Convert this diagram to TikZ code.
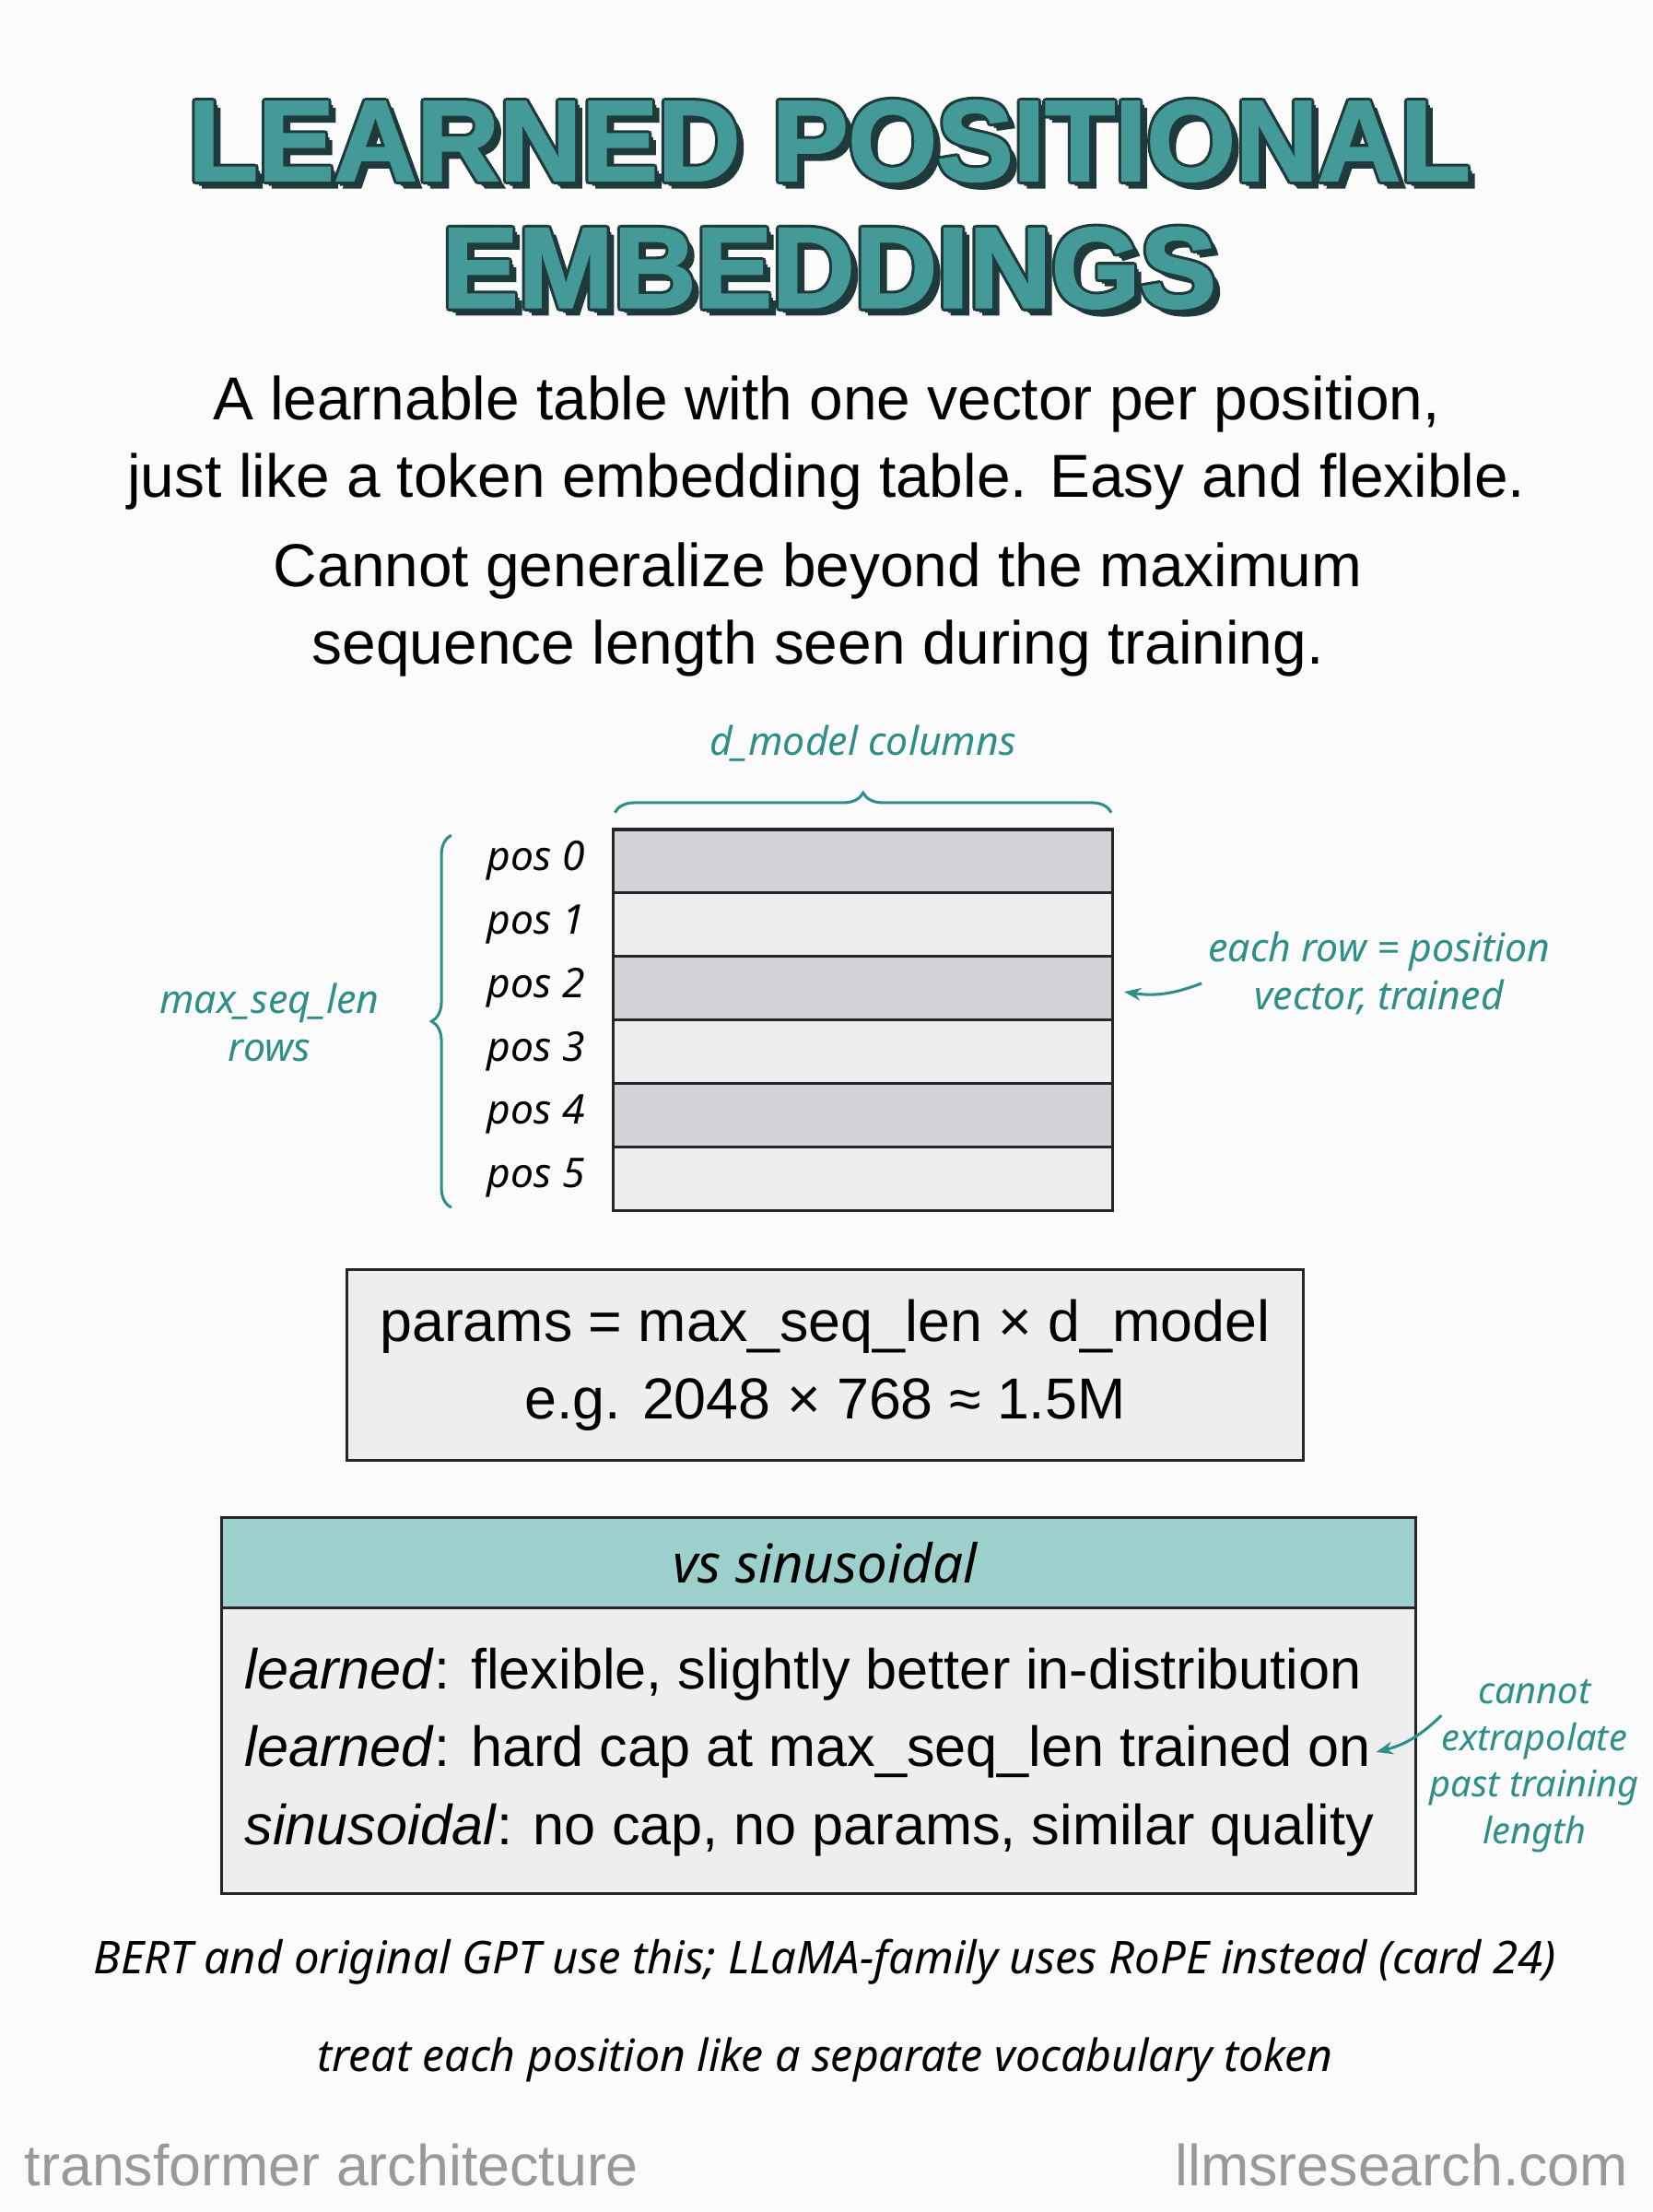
\documentclass[tikz,border=0pt]{standalone}
\usepackage{fontspec}
\setmainfont{Liberation Sans}
\newfontfamily\hand{Noto Sans}
\newfontfamily\ttl{Liberation Sans}[FakeBold=2]
\usetikzlibrary{decorations.pathreplacing,arrows.meta}
\definecolor{teal1}{HTML}{2E8F8A}
\definecolor{dark}{HTML}{1E3A3A}
\definecolor{rowA}{HTML}{D3D4D8}
\definecolor{rowB}{HTML}{EEEEF1}
\definecolor{head}{HTML}{9DD0CD}
\begin{document}
\begin{tikzpicture}[x=1pt,y=-1pt,
  note/.style={text=teal1,font=\hand\itshape\fontsize{28}{34}\selectfont,align=center},
  plab/.style={font=\hand\itshape\fontsize{29}{34}\selectfont},
  body/.style={font=\fontsize{43}{55}\selectfont,align=center},
  row/.style={anchor=west,font=\fontsize{40}{44}\selectfont},
  box/.style={draw=black!85,line width=2pt},
  arr/.style={draw=teal1,line width=2pt,-{Stealth[length=12pt]}}]
\useasboundingbox[fill=white!97!gray] (0,0) rectangle (1172,1568);
% title
\foreach \t/\y [count=\i] in {LEARNED POSITIONAL/100,EMBEDDINGS/190}{
  \foreach \dx/\dy in {3/3,5/5,-2/0,2/0,0/-2,0/2,-1.5/-1.5,1.5/1.5,1.5/-1.5,-1.5/1.5}
    \node[text=dark,font=\ttl\bfseries\fontsize{81}{86}\selectfont] at (588+\dx,\y+\dy) {\t};
  \node[text=teal1!90,font=\ttl\bfseries\fontsize{81}{86}\selectfont] (title\i) at (588,\y) {\t};
}
\node[body] (sub1) at (586,314) {A learnable table with one vector per position,\\just like a token embedding table. Easy and flexible.};
\node[body] (sub2) at (580,432) {Cannot generalize beyond the maximum\\sequence length seen during training.};
% table
\foreach \i in {0,...,5}{
  \pgfmathsetmacro\yy{588+45*\i}
  \ifodd\i \def\c{rowB}\else\def\c{rowA}\fi
  \draw[box,fill=\c] (435,\yy) rectangle (789,\yy+45);
  \node[plab] (p\i) at (380,\yy+22) {pos \i};
}
\coordinate (tl) at (436,576); \coordinate (tr) at (788,576);
\draw[teal1,line width=2pt,decorate,decoration={brace,amplitude=14pt}] (tl) -- (tr);
\node[note] (dm) at (612,527) {d\_model columns};
\coordinate (lt) at (320,592); \coordinate (lb) at (320,856);
\draw[teal1,line width=2pt,decorate,decoration={brace,amplitude=14pt}] (lb) -- (lt);
\node[note] (msl) at (191,725) {max\_seq\_len\\rows};
\node[note] (er) at (978,690) {each row = position\\vector, trained};
\coordinate (ea) at (797,703);
\coordinate (es) at (852,697);
\draw[arr] (es) to[bend left=15] (ea);
% params
\node[box,fill=rowB,minimum width=678,minimum height=135,body,font=\fontsize{41}{55}\selectfont] (params) at (585,967.5) {params = max\_seq\_len × d\_model\\e.g. 2048 × 768 ≈ 1.5M};
% vs box
\draw[box,fill=rowB] (157,1076) rectangle (1004,1342);
\draw[box,fill=head] (157,1076) rectangle (1004,1140);
\node[font=\hand\itshape\fontsize{38}{44}\selectfont] (vs) at (585,1108) {vs sinusoidal};
\node[row] (r1) at (170,1187) {\textit{learned}: flexible, slightly better in-distribution};
\node[row] (r2) at (170,1242) {\textit{learned}: hard cap at max\_seq\_len trained on};
\node[row] (r3) at (170,1297) {\textit{sinusoidal}: no cap, no params, similar quality};
\node[note,font=\hand\itshape\fontsize{26}{33}\selectfont] (cx) at (1088,1252) {cannot\\extrapolate\\past training\\length};
\coordinate (cs) at (1022,1216);
\draw[arr] (cs) to[bend left=15] (r2.east);
% footnotes
\node[plab,font=\hand\itshape\fontsize{32}{34}\selectfont] (f1) at (585,1391) {BERT and original GPT use this; LLaMA-family uses RoPE instead (card 24)};
\node[plab,font=\hand\itshape\fontsize{31.5}{34}\selectfont] (f2) at (585,1460) {treat each position like a separate vocabulary token};
\node[anchor=west,text=black!40,font=\fontsize{41}{44}\selectfont] (ft1) at (14,1535) {transformer architecture};
\node[anchor=east,text=black!40,font=\fontsize{41}{44}\selectfont] (ft2) at (1158,1535) {llmsresearch.com};
\end{tikzpicture}
\end{document}
